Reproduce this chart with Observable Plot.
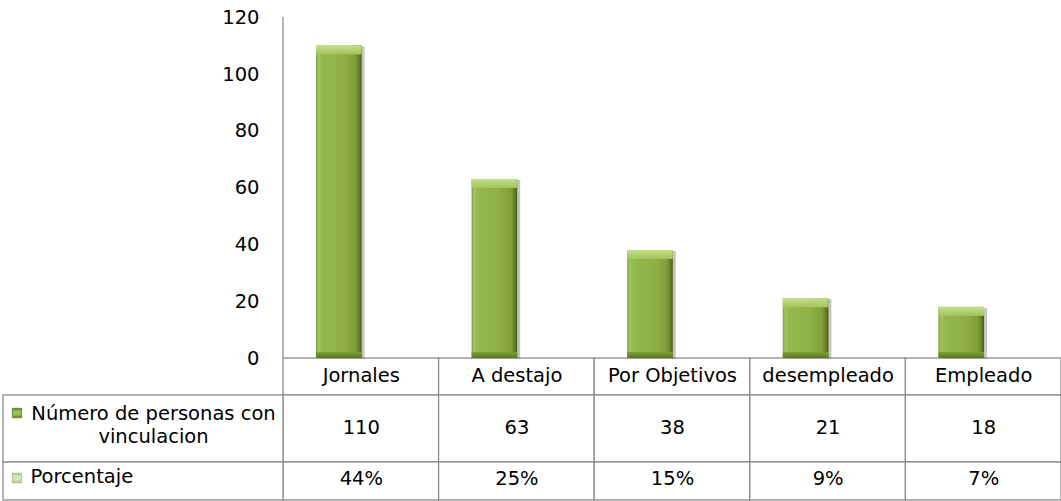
<!DOCTYPE html>
<html><head><meta charset="utf-8">
<script src="https://cdn.jsdelivr.net/npm/d3@7"></script>
<script src="https://cdn.jsdelivr.net/npm/@observablehq/plot@0.6"></script>
<style>
html,body{margin:0;padding:0;background:#fff;}
</style></head><body><div id="chart"></div>
<script>
// ---- data ----
const categories = ["Jornales", "A destajo", "Por Objetivos", "desempleado", "Empleado"];
const personas = [110, 63, 38, 21, 18];
const porcentaje = ["44%", "25%", "15%", "9%", "7%"];
const seriesNames = ["Número de personas con\nvinculacion", "Porcentaje"];
const yTicks = [0, 20, 40, 60, 80, 100, 120];

// ---- layout (styles / positions) ----
const W = 1061, H = 501;
const ML = 283, MT = 17, MB = 143, MR = 0;
const BW = (W - ML - MR) / categories.length;
const catRow = [0, 37], row1 = [37, 104], row2 = [104, 142];
const grid = "#8c8c8c";
const barInset = 55, barShift = -22;
const FS = 19.5;
const textShift = 5;

const data = categories.map((c, i) => ({cat: c, personas: personas[i], pct: porcentaje[i]}));
const first = data.slice(0, 1);

function cells(r) {
  return Plot.barY(data, {x: "cat", y1: 0, y2: 0, insetTop: r[0], insetBottom: -r[1],
    fill: "white", stroke: grid, strokeWidth: 1.3});
}
function leftCell(r) {
  return Plot.barY(first, {x: "cat", y1: 0, y2: 0, insetTop: r[0], insetBottom: -r[1],
    insetLeft: -(ML - 3), insetRight: BW, fill: "white", stroke: grid, strokeWidth: 1.3});
}
const mid = r => (r[0] + r[1]) / 2 + textShift;
const barOpts = {x: "cat", insetLeft: barInset, insetRight: barInset, dx: barShift};

const svg = Plot.plot({
  width: W, height: H,
  marginLeft: ML, marginRight: MR, marginTop: MT, marginBottom: MB,
  style: {fontFamily: "DejaVu Sans", fontSize: FS + "px", color: "#000", background: "#fff"},
  x: {domain: categories, padding: 0, round: false, axis: null},
  y: {domain: [0, 120], ticks: yTicks, tickSize: 0, tickPadding: 24, label: null},
  marks: [
    // data table grid
    cells(catRow),
    cells(row1),
    cells(row2),
    leftCell(row1),
    leftCell(row2),
    // y axis line
    Plot.barY(first, {x: "cat", y1: 0, y2: 120, insetLeft: -0.65, insetRight: BW - 0.65, fill: grid}),
    // bar shadow
    Plot.barY(data, {...barOpts, y: "personas", dx: barShift + 3, dy: 1, fill: "#7f7f7f", fillOpacity: 0.45, ariaLabel: "shadow"}),
    // bars
    Plot.barY(data, {...barOpts, y: "personas", fill: "url(#barGrad)"}),
    Plot.barY(data, {...barOpts, y1: "personas", y2: "personas", insetBottom: -9, fill: "url(#topGrad)"}),
    Plot.barY(data, {...barOpts, y1: 0, y2: 0, insetTop: -6, fill: "url(#botGrad)"}),
    // category labels
    Plot.text(data, {x: "cat", text: "cat", frameAnchor: "bottom", dy: mid(catRow), fill: "#000"}),
    // values
    Plot.text(data, {x: "cat", text: "personas", frameAnchor: "bottom", dy: mid(row1), fill: "#000"}),
    Plot.text(data, {x: "cat", text: "pct", frameAnchor: "bottom", dy: mid(row2) - 2, fill: "#000"}),
    // row labels
    Plot.text([seriesNames[0]], {text: d => d, frameAnchor: "bottom-left", dx: -130, dy: 84, textAnchor: "middle", lineHeight: 1.13, fill: "#000"}),
    Plot.text([seriesNames[1]], {text: d => d, frameAnchor: "bottom-left", dx: -253, dy: 119 + textShift, textAnchor: "start", fill: "#000"}),
    // legend keys
    Plot.dot([seriesNames[0]], {frameAnchor: "bottom-left", dx: -266.5, dy: 54.5, symbol: "square", r: 5.3, fill: "url(#key1)", stroke: "#5d7a26", strokeWidth: 0.8}),
    Plot.dot([seriesNames[1]], {frameAnchor: "bottom-left", dx: -266.5, dy: 119.5, symbol: "square", r: 5.3, fill: "url(#key2)", stroke: "#9fb57a", strokeWidth: 0.8})
  ]
});

const defs = d3.select(svg).insert("defs", ":first-child");
function grad(id, stops, vertical) {
  const g = defs.append("linearGradient").attr("id", id)
    .attr("x1", 0).attr("y1", 0).attr("x2", vertical ? 0 : 1).attr("y2", vertical ? 1 : 0);
  stops.forEach(([o, c]) => g.append("stop").attr("offset", o).attr("stop-color", c));
}
grad("barGrad", [[0, "#7a9a34"], [0.05, "#a3c45e"], [0.14, "#95b84c"], [0.6, "#8eb145"], [0.86, "#7f9f39"], [0.95, "#627f27"], [1, "#43581a"]]);
grad("topGrad", [[0, "#c4df86"], [1, "#a2c35d"]], true);
grad("botGrad", [[0, "#7f9f38"], [1, "#5a7621"]], true);
grad("key1", [[0, "#5f7f25"], [0.35, "#9cc056"], [0.65, "#9cc056"], [1, "#5f7f25"]], true);
grad("key2", [[0, "#b3c98a"], [0.35, "#d6e6b8"], [0.65, "#d6e6b8"], [1, "#b3c98a"]], true);
defs.append("filter").attr("id", "blur").attr("x", "-20%").attr("width", "140%")
  .append("feGaussianBlur").attr("stdDeviation", 1.6);
d3.select(svg).selectAll('g[aria-label="shadow"]').attr("filter", "url(#blur)");

document.getElementById("chart").appendChild(svg);
</script></body></html>
